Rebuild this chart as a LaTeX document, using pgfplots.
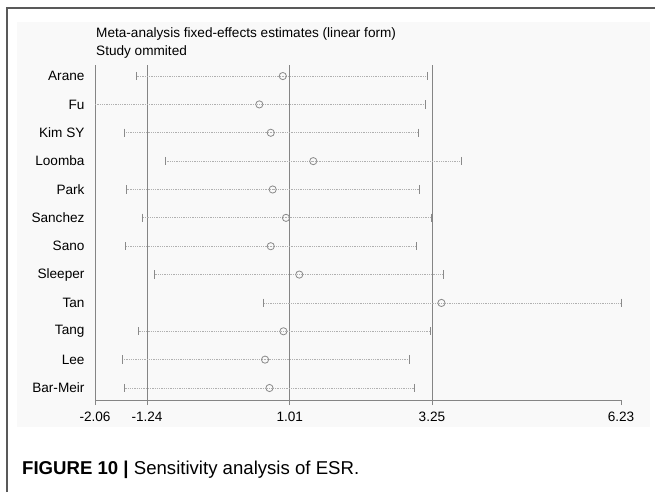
\documentclass[border=0pt]{standalone}
\usepackage{pgfplots}
\usepackage{pgfplotstable}
\pgfplotsset{compat=1.18}
\usepackage{fontspec}
\setmainfont{Liberation Sans}
\definecolor{axgray}{HTML}{858585}
\definecolor{dotgray}{HTML}{B0B0B0}
\definecolor{markgray}{HTML}{8A8A8A}
\pgfplotstableread{
y est lo hi
12 0.90 -1.40 3.18
11 0.53 -2.30 3.14
10 0.71 -1.60 3.03
9 1.38 -0.95 3.71
8 0.74 -1.56 3.05
7 0.95 -1.32 3.24
6 0.71 -1.58 3.00
5 1.16 -1.13 3.43
4 3.40 0.59 6.23
3 0.91 -1.38 3.22
2 0.62 -1.63 2.89
1 0.69 -1.60 2.98
}\data
\begin{document}
\begin{tikzpicture}[x=1pt,y=1pt]
\useasboundingbox (0,0) rectangle (655,-492);
\fill[black!2.5] (17,-22) rectangle (650,-427);
\draw[black!65, line width=1.4pt] (7,-492) -- (7,-8) -- (656,-8);
\node[anchor=west, font=\fontsize{13.6}{15}\selectfont, inner sep=0pt] at (96,-34) {Meta-analysis fixed-effects estimates (linear form)};
\node[anchor=west, font=\fontsize{13.6}{15}\selectfont, inner sep=0pt] at (96,-52) {Study ommited};
\node[anchor=west, font=\fontsize{18.6}{22}\selectfont, inner sep=0pt] at (22,-470) {\textbf{FIGURE 10 |} Sensitivity analysis of ESR.};
\begin{axis}[
  at={(95pt,-400pt)}, anchor=south west,
  scale only axis, width=526pt, height=335pt,
  xmin=-2.06, xmax=6.23, ymin=0.577, ymax=12.39,
  axis x line=bottom, axis y line=left,
  axis line style={-, axgray, line width=0.8pt},
  xtick={-2.06,-1.24,1.01,3.25,6.23},
  xticklabels={-2.06,-1.24,1.01,3.25,6.23},
  ytick={1,...,12},
  yticklabels={Bar-Meir,Lee,Tang,Tan,Sleeper,Sano,Sanchez,Park,Loomba,Kim SY,Fu,Arane},
  tick style={axgray, line width=0.8pt},
  xtick style={axgray},
  ytick style={draw=none},
  tick align=outside,
  major tick length=5pt,
  ticklabel style={font=\fontsize{13.6}{15}\selectfont},
  /pgf/number format/assume math mode=true,
  xticklabel style={yshift=-3pt},
  yticklabel style={xshift=-2pt},
  clip=true,
]
\addplot[axgray, line width=0.8pt] coordinates {(-1.24,0.577) (-1.24,12.39)};
\addplot[axgray, line width=0.8pt] coordinates {(1.01,0.577) (1.01,12.39)};
\addplot[axgray, line width=0.8pt] coordinates {(3.25,0.577) (3.25,12.39)};
\addplot[only marks, mark=|, mark size=4.2pt, markgray, mark options={line width=0.8pt}] table[x=lo, y=y] {\data};
\addplot[only marks, mark=|, mark size=4.2pt, markgray, mark options={line width=0.8pt}] table[x=hi, y=y] {\data};
\addplot[only marks, mark=o, mark size=3.6pt, markgray, mark options={fill=white, line width=0.8pt},
  error bars/.cd, x dir=both, x explicit, error mark=none,
  error bar style={dotgray, line width=0.8pt, densely dotted}]
  table[x=est, y=y, x error plus expr=\thisrow{hi}-\thisrow{est}, x error minus expr=\thisrow{est}-\thisrow{lo}] {\data};
\end{axis}
\end{tikzpicture}
\end{document}
